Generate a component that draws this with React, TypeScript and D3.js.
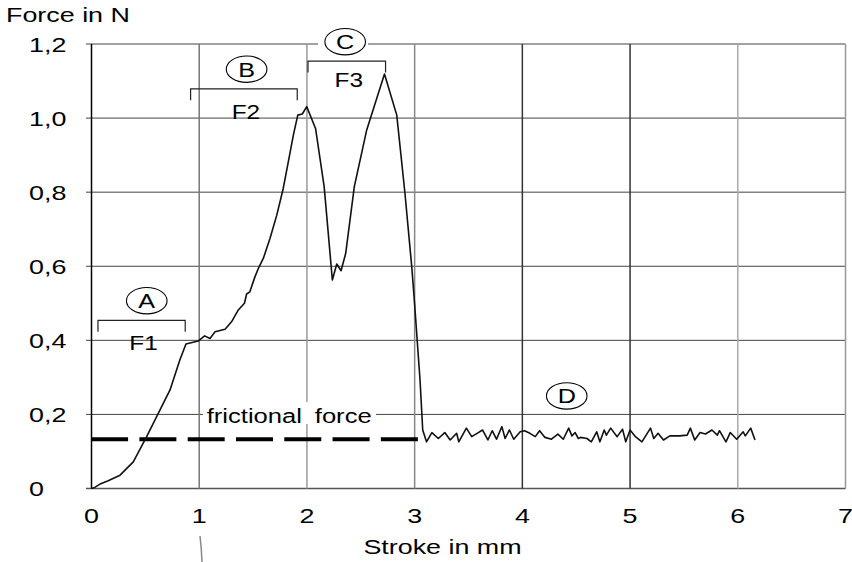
import React from "react";
import * as d3 from "d3";

// Measured force curve (stroke in mm, force in N)
const strokeMm: number[] = [
  0, 0.03, 0.079, 0.15, 0.265, 0.388, 0.512, 0.62, 0.729, 0.82, 0.877, 0.99, 1.05, 1.1, 1.147, 1.24, 1.3,
  1.363, 1.42, 1.44, 1.47, 1.518, 1.549, 1.595, 1.657, 1.72, 1.78, 1.827, 1.874, 1.915, 1.957, 1.998,
  2.08, 2.16, 2.236, 2.277, 2.317, 2.36, 2.44, 2.555, 2.72, 2.834, 2.91, 2.973, 2.997, 3.05, 3.075,
  3.11, 3.16, 3.22, 3.28, 3.33, 3.39, 3.41, 3.48, 3.53, 3.58, 3.63, 3.68, 3.72, 3.76, 3.81, 3.84, 3.88,
  3.92, 3.98, 4.02, 4.07, 4.12, 4.16, 4.21, 4.27, 4.33, 4.38, 4.43, 4.46, 4.49, 4.52, 4.54, 4.6, 4.64,
  4.69, 4.72, 4.76, 4.78, 4.82, 4.88, 4.93, 4.96, 5.0, 5.05, 5.11, 5.19, 5.22, 5.26, 5.31, 5.37, 5.46,
  5.53, 5.56, 5.6, 5.65, 5.7, 5.76, 5.81, 5.83, 5.89, 5.93, 5.99, 6.05, 6.07, 6.12, 6.16,
];
const forceN: number[] = [
  0, 0.003, 0.012, 0.02, 0.036, 0.072, 0.14, 0.203, 0.266, 0.347, 0.39, 0.398, 0.412, 0.405, 0.423, 0.43,
  0.45, 0.482, 0.5, 0.525, 0.531, 0.572, 0.594, 0.621, 0.675, 0.738, 0.81, 0.882, 0.954, 1.008, 1.011,
  1.031, 0.972, 0.815, 0.563, 0.606, 0.588, 0.635, 0.815, 0.968, 1.119, 1.008, 0.797, 0.599, 0.509,
  0.293, 0.158, 0.126, 0.151, 0.135, 0.151, 0.131, 0.149, 0.126, 0.163, 0.14, 0.149, 0.158, 0.131,
  0.156, 0.133, 0.167, 0.135, 0.158, 0.133, 0.153, 0.156, 0.149, 0.14, 0.156, 0.138, 0.133, 0.147,
  0.133, 0.163, 0.142, 0.151, 0.135, 0.138, 0.135, 0.126, 0.153, 0.126, 0.158, 0.144, 0.163, 0.14,
  0.16, 0.126, 0.158, 0.14, 0.126, 0.163, 0.135, 0.149, 0.131, 0.142, 0.142, 0.144, 0.163, 0.131,
  0.151, 0.147, 0.158, 0.144, 0.156, 0.126, 0.151, 0.133, 0.153, 0.142, 0.163, 0.131,
];

const xTicks: number[] = [0, 1, 2, 3, 4, 5, 6, 7];
const yTicks: number[] = [0, 0.2, 0.4, 0.6, 0.8, 1.0, 1.2];
const yTickLabels: string[] = ["0", "0,2", "0,4", "0,6", "0,8", "1,0", "1,2"];
const frictionalForce = 0.133;
const frictionEnd = 3.03;

// Annotation anchors (data coordinates)
const bracketLabels: string[] = ["F1", "F2", "F3"];
const bracketStart: number[] = [0.06, 0.92, 2.01];
const bracketEnd: number[] = [0.87, 1.91, 2.73];
const bracketLevel: number[] = [0.454, 1.079, 1.154];
const circleLetters: string[] = ["A", "B", "C", "D"];
const circleX: number[] = [0.513, 1.44, 2.355, 4.412];
const circleY: number[] = [0.507, 1.132, 1.2, 0.25];

const W = 852;
const H = 562;
const FONT = "'Liberation Sans', Arial, Helvetica, sans-serif";

function T(props: {
  x: number;
  y: number;
  text: string;
  size: number;
  sx?: number;
  anchor?: "start" | "middle" | "end";
}) {
  const { x, y, text, size, sx = 1.28, anchor = "start" } = props;
  return (
    <text
      transform={`translate(${x},${y}) scale(${sx},1)`}
      textAnchor={anchor}
      fontFamily={FONT}
      fontSize={size}
      fill="#000"
    >
      {text}
    </text>
  );
}

export default function App() {
  const x = d3.scaleLinear().domain([0, 7]).range([91.5, 845.5]);
  const y = d3.scaleLinear().domain([0, 1.2]).range([488.5, 44]);

  const pts: [number, number][] = strokeMm.map((s, i) => [s, forceN[i]]);
  const line = d3
    .line<[number, number]>()
    .x((d) => x(d[0]))
    .y((d) => y(d[1]));

  const vColors = ["#000", "#777", "#999", "#888", "#333", "#333", "#aaa", "#999"];

  return (
    <svg
      width={W}
      height={H}
      viewBox={`0 0 ${W} ${H}`}
      style={{ position: "absolute", left: 0, top: 0, background: "#fff" }}
    >
      <rect x={0} y={0} width={W} height={H} fill="#fff" />
      {/* horizontal grid */}
      {yTicks.map((t) => (
        <line
          key={"h" + t}
          x1={x(0) - 5.5}
          x2={x(7)}
          y1={y(t)}
          y2={y(t)}
          stroke={t === 0 ? "#555" : "#444"}
          strokeWidth={t === 0 ? 1.6 : 1}
        />
      ))}
      {/* vertical grid */}
      {xTicks.map((t, i) => (
        <line
          key={"v" + t}
          x1={x(t)}
          x2={x(t)}
          y1={y(1.2)}
          y2={y(0)}
          stroke={vColors[i]}
          strokeWidth={1.5}
        />
      ))}
      {/* y tick labels */}
      {yTicks.map((t, i) => (
        <T key={"yl" + t} x={29} y={y(t) + 7.5} text={yTickLabels[i]} size={21} />
      ))}
      {/* x tick labels */}
      {xTicks.map((t) => (
        <T key={"xl" + t} x={x(t)} y={522.7} text={String(t)} size={21} anchor="middle" />
      ))}
      <T x={6} y={21.7} text="Force in N" size={21} />
      <T x={442.5} y={554} text="Stroke in mm" size={21} anchor="middle" />

      {/* white boxes behind labels */}
      <rect x={203} y={402} width={173} height={22} fill="#fff" />
      <rect x={318} y={30} width={50} height={26} fill="#fff" />

      {/* frictional force */}
      <line
        x1={x(frictionEnd)}
        x2={x(0) - 5.5}
        y1={y(frictionalForce)}
        y2={y(frictionalForce)}
        stroke="#000"
        strokeWidth={4}
        strokeDasharray="37 11.3"
      />
      <T x={206.7} y={422.7} text="frictional" size={20} />
      <T x={371.7} y={422.7} text="force" size={20} anchor="end" />

      {/* curve */}
      <path d={line(pts) || ""} fill="none" stroke="#111" strokeWidth={1.6} strokeLinejoin="round" />

      {/* brackets */}
      {bracketLabels.map((lab, i) => {
        const x1 = x(bracketStart[i]);
        const x2 = x(bracketEnd[i]);
        const yy = y(bracketLevel[i]);
        return (
          <g key={lab}>
            <path
              d={`M${x1},${yy + 11.5}V${yy}H${x2}V${yy + 11.5}`}
              fill="none"
              stroke="#222"
              strokeWidth={1.2}
            />
            <T x={(x1 + x2) / 2 + 2} y={yy + 30 - (i === 2 ? 4 : 0)} text={lab} size={20} sx={1.22} anchor="middle" />
          </g>
        );
      })}

      {/* circled letters */}
      {circleLetters.map((c, i) => (
        <g key={c}>
          <ellipse
            cx={x(circleX[i])}
            cy={y(circleY[i]) - (i === 2 ? 2.3 : 0)}
            rx={20.3}
            ry={13.2}
            fill="none"
            stroke="#000"
            strokeWidth={1.1}
          />
          <T x={x(circleX[i])} y={y(circleY[i]) - (i === 2 ? 2.3 : 0) + 7.6} text={c} size={21} sx={1.2} anchor="middle" />
        </g>
      ))}

      {/* small scan mark */}
      <path d="M200,536 Q201.5,548 202,562" fill="none" stroke="#888" strokeWidth={1.5} />
    </svg>
  );
}
